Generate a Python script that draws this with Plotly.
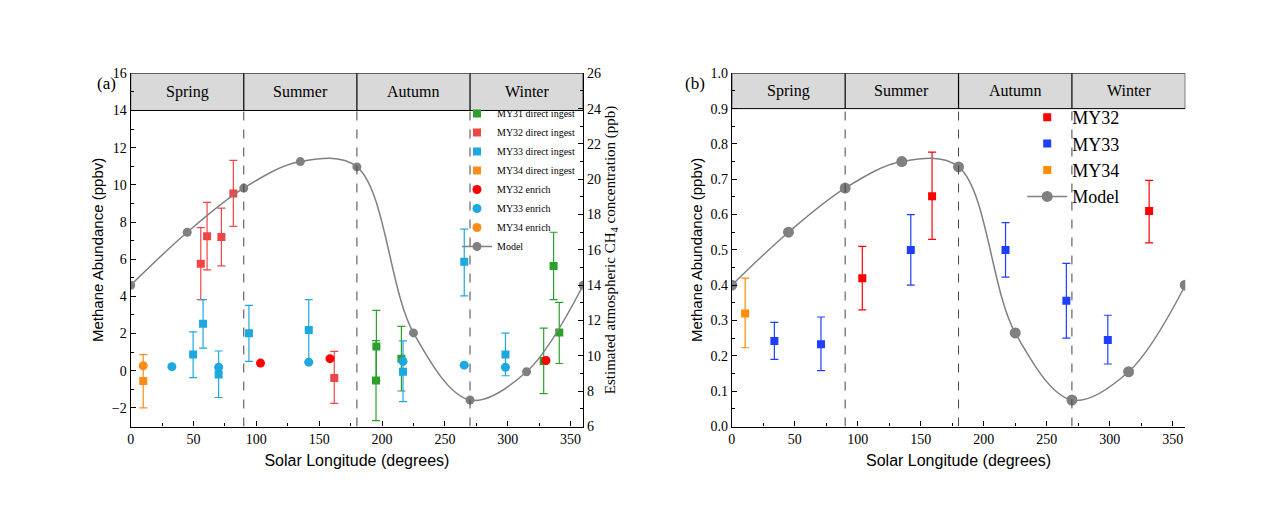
import plotly.graph_objects as go

# ---- data ----
seasons = ['Spring', 'Summer', 'Autumn', 'Winter']
season_mid = [45, 135, 225, 315]

model_ls = [0, 45, 90, 135, 180, 225, 270, 315, 360]
model_a = [14.0, 17.0, 19.5, 21.0, 20.7, 11.3, 7.5, 9.1, 14.0]       # ppb (right axis, panel a)
model_b = [0.40, 0.55, 0.675, 0.75, 0.735, 0.265, 0.075, 0.155, 0.40]  # ppbv (panel b)

# panel (a): direct ingest
my31_ls = [195.5, 195.2, 215.4, 328.6, 336.5, 341.0]
my31_v = [1.30, -0.53, 0.65, 0.53, 5.64, 2.05]
my31_hi = [3.25, 1.62, 2.39, 2.29, 7.45, 3.68]
my31_lo = [-0.53, -2.68, -1.09, -1.23, 3.83, 0.39]

my32_ls = [55.8, 60.8, 72.2, 81.7, 162.0]
my32_v = [5.76, 7.23, 7.20, 9.54, -0.39]
my32_hi = [7.70, 9.06, 8.75, 11.32, 1.04]
my32_lo = [3.83, 5.42, 5.64, 7.76, -1.76]

my33_ls = [49.7, 57.6, 70.0, 94.1, 141.7, 216.7, 265.4, 298.2]
my33_v = [0.87, 2.53, -0.20, 2.02, 2.19, -0.05, 5.86, 0.87]
my33_hi = [2.09, 3.83, 1.06, 3.52, 3.83, 1.61, 7.62, 2.02]
my33_lo = [-0.37, 1.22, -1.44, 0.50, 0.49, -1.66, 4.03, -0.27]

my34_ls = [10.0]
my34_v = [-0.55]
my34_hi = [0.87]
my34_lo = [-2.00]

# panel (a): enrich
en32_ls = [103.3, 158.6, 330.4]
en32_v = [0.41, 0.65, 0.55]
en33_ls = [32.8, 70.0, 141.7, 216.7, 265.4, 298.2]
en33_v = [0.22, 0.19, 0.46, 0.50, 0.30, 0.19]
en34_ls = [10.0]
en34_v = [0.27]

# panel (b)
b32_ls = [103.6, 159.0, 331.3]
b32_v = [0.42, 0.652, 0.61]
b32_hi = [0.51, 0.777, 0.697]
b32_lo = [0.33, 0.53, 0.52]
b33_ls = [33.8, 70.8, 142.1, 217.3, 265.6, 298.5]
b33_v = [0.242, 0.233, 0.50, 0.50, 0.356, 0.245]
b33_hi = [0.295, 0.31, 0.60, 0.577, 0.462, 0.315]
b33_lo = [0.19, 0.158, 0.40, 0.423, 0.25, 0.177]
b34_ls = [10.6]
b34_v = [0.32]
b34_hi = [0.42]
b34_lo = [0.223]

GREEN, RED, CYAN, ORANGE = '#2ca02c', '#f04545', '#1ea8e0', '#ff8c1a'
SERIF = 'Liberation Serif'
SANS = 'Liberation Sans'

fig = go.Figure()


def err(v, hi, lo, color):
    return dict(type='data', symmetric=False,
                array=[h - x for h, x in zip(hi, v)],
                arrayminus=[x - l for l, x in zip(lo, v)],
                color=color, thickness=1.2, width=4)


def add_sq(x, y, hi, lo, color, name, xa, ya, legend):
    fig.add_trace(go.Scatter(x=x, y=y, mode='markers', name=name, xaxis=xa, yaxis=ya,
                             marker=dict(symbol='square', size=8, color=color),
                             error_y=err(y, hi, lo, color), legend=legend))


# panel (a)
add_sq(my31_ls, my31_v, my31_hi, my31_lo, GREEN, 'MY31 direct ingest', 'x', 'y', 'legend')
add_sq(my32_ls, my32_v, my32_hi, my32_lo, RED, 'MY32 direct ingest', 'x', 'y', 'legend')
add_sq(my33_ls, my33_v, my33_hi, my33_lo, CYAN, 'MY33 direct ingest', 'x', 'y', 'legend')
add_sq(my34_ls, my34_v, my34_hi, my34_lo, ORANGE, 'MY34 direct ingest', 'x', 'y', 'legend')
for x, y, c, n in [(en32_ls, en32_v, '#ff0000', 'MY32 enrich'),
                   (en33_ls, en33_v, CYAN, 'MY33 enrich'),
                   (en34_ls, en34_v, ORANGE, 'MY34 enrich')]:
    fig.add_trace(go.Scatter(x=x, y=y, mode='markers', name=n, xaxis='x', yaxis='y',
                             marker=dict(symbol='circle', size=9, color=c), legend='legend'))
fig.add_trace(go.Scatter(x=model_ls, y=model_a, mode='lines+markers', name='Model',
                         xaxis='x', yaxis='y2', line=dict(color='#808080', width=1.5, shape='spline', smoothing=1.0),
                         marker=dict(size=9, color='#808080'), legend='legend'))

# panel (b)
add_sq(b32_ls, b32_v, b32_hi, b32_lo, '#ff0000', 'MY32', 'x2', 'y3', 'legend2')
add_sq(b33_ls, b33_v, b33_hi, b33_lo, '#1f3fff', 'MY33', 'x2', 'y3', 'legend2')
add_sq(b34_ls, b34_v, b34_hi, b34_lo, '#ff8c00', 'MY34', 'x2', 'y3', 'legend2')
fig.add_trace(go.Scatter(x=model_ls, y=model_b, mode='lines+markers', name='Model',
                         xaxis='x2', yaxis='y3', line=dict(color='#808080', width=1.5, shape='spline', smoothing=1.0),
                         marker=dict(size=11, color='#808080'), legend='legend2'))

# season headers and dividers
shapes = []
annotations = []
for xr, yr, top, hb in [('x', 'y', 16, 14), ('x2', 'y3', 1.0, 0.9)]:
    shapes.append(dict(type='rect', xref=xr, yref=yr, x0=0, x1=360, y0=hb, y1=top,
                       fillcolor='#d9d9d9', line=dict(color='black', width=1), layer='below'))
    ybot = -3 if yr == 'y' else 0
    for b in [90, 180, 270]:
        shapes.append(dict(type='line', xref=xr, yref=yr, x0=b, x1=b, y0=hb, y1=top,
                           line=dict(color='black', width=1.2)))
        shapes.append(dict(type='line', xref=xr, yref=yr, x0=b, x1=b, y0=ybot, y1=hb,
                           line=dict(color='#444', width=1, dash='dash')))
    for s, m in zip(seasons, season_mid):
        annotations.append(dict(xref=xr, yref=yr, x=m, y=(top + hb) / 2, text=s, showarrow=False,
                                font=dict(family=SERIF, size=16, color='black')))

annotations += [
    dict(xref='paper', yref='paper', x=0.066, y=0.885, text='(a)', showarrow=False,
         font=dict(family=SERIF, size=17, color='black')),
    dict(xref='paper', yref='paper', x=0.54, y=0.885, text='(b)', showarrow=False,
         font=dict(family=SERIF, size=17, color='black')),
]

ax = dict(showline=True, linecolor='black', linewidth=1.2, ticks='inside', ticklen=5,
          tickcolor='black', showgrid=False, zeroline=False, mirror=False,
          minor=dict(ticks='inside', ticklen=3, tickcolor='black'),
          tickfont=dict(family=SERIF, size=14, color='black'))
xax = dict(ax, range=[0, 360], dtick=50, minor=dict(ticks='inside', ticklen=3, tickcolor='black', dtick=25),
           title=dict(text='Solar Longitude (degrees)', font=dict(family=SANS, size=16, color='black'), standoff=8))
ytitle = dict(font=dict(family=SANS, size=15, color='black'), standoff=4)
y2title = dict(text='Estimated atmospheric CH<sub>4</sub> concentration (ppb)',
               font=dict(family=SERIF, size=15, color='black'), standoff=4)

dom_a = [0.0938, 0.4515]
dom_b = [0.569, 0.9275]
ydom = [0.167, 0.882]

fig.update_layout(
    width=1269, height=509, margin=dict(l=0, r=0, t=0, b=0),
    plot_bgcolor='white', paper_bgcolor='white', showlegend=True,
    xaxis=dict(xax, domain=dom_a, anchor='y'),
    yaxis=dict(ax, domain=ydom, range=[-3, 16], dtick=2, anchor='x',
               minor=dict(ticks='inside', ticklen=3, tickcolor='black', dtick=1),
               title=dict(ytitle, text='Methane Abundance (ppbv)')),
    yaxis2=dict(ax, overlaying='y', side='right', anchor='x', range=[6, 26], dtick=2,
                minor=dict(ticks='inside', ticklen=3, tickcolor='black', dtick=1), title=y2title),
    xaxis2=dict(xax, domain=dom_b, anchor='y3'),
    yaxis3=dict(ax, domain=ydom, range=[0, 1.0], dtick=0.1, tickformat='.1f', anchor='x2',
                minor=dict(ticks='inside', ticklen=3, tickcolor='black', dtick=0.05),
                title=dict(ytitle, text='Methane Abundance (ppbv)')),
    yaxis4=dict(ax, overlaying='y3', side='right', anchor='x2', range=[6, 26], dtick=2,
                minor=dict(ticks='inside', ticklen=3, tickcolor='black', dtick=1), title=y2title),
    legend=dict(x=0.449, y=0.83, xanchor='right', yanchor='top', bgcolor='rgba(0,0,0,0)',
                font=dict(family=SERIF, size=10, color='black'), tracegroupgap=0, itemwidth=30),
    legend2=dict(x=0.88, y=0.83, xanchor='right', yanchor='top', bgcolor='rgba(0,0,0,0)',
                 font=dict(family=SERIF, size=18, color='black'), itemwidth=40),
    shapes=shapes, annotations=annotations,
)

fig.write_html('out.html')
